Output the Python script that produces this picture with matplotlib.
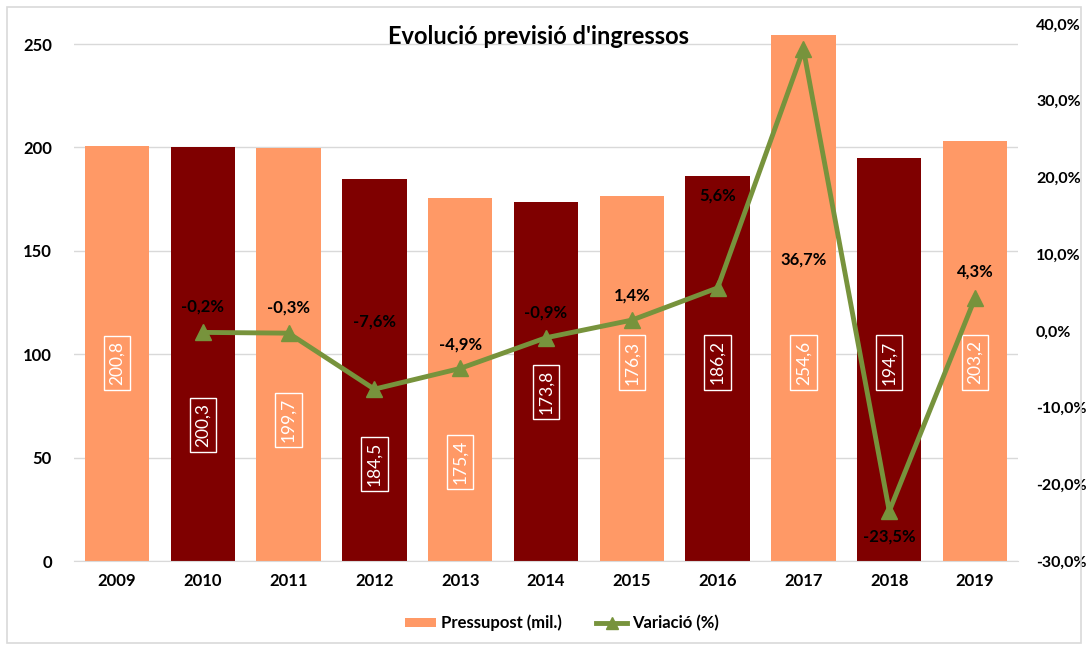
import matplotlib
matplotlib.use("Agg")
import matplotlib.pyplot as plt
from matplotlib.lines import Line2D
from matplotlib.patches import Patch, Rectangle

plt.rcParams['font.family'] = ['Lato', 'DejaVu Sans']
plt.rcParams['font.weight'] = 'bold'

years = ['2009', '2010', '2011', '2012', '2013', '2014', '2015', '2016', '2017', '2018', '2019']
budget = [200.8, 200.3, 199.7, 184.5, 175.4, 173.8, 176.3, 186.2, 254.6, 194.7, 203.2]
variation = [None, -0.2, -0.3, -7.6, -4.9, -0.9, 1.4, 5.6, 36.7, -23.5, 4.3]
left_ticks = [0, 50, 100, 150, 200, 250]
right_ticks = [-30, -20, -10, 0, 10, 20, 30, 40]

# layout (label positions, as dragged in the original)
bar_label_y = [95.7, 65.8, 68.2, 46.9, 47.9, 81.7, 96, 96, 96, 96, 96]
pct_label_off = [0, 3.4, 3.4, 8.8, 3.1, 3.3, 3.2, 12.0, -27.4, -3.3, 3.5]

light = '#FF9966'
dark = '#7F0000'
green = '#77933C'
colors = [light if i % 2 == 0 else dark for i in range(len(years))]

fig = plt.figure(figsize=(10.88, 6.5), dpi=100)
fig.patches.append(Rectangle((7/1088, 7/650), 1 - 14/1088, 1 - 14/650, transform=fig.transFigure,
                             fill=False, edgecolor='#D9D9D9', lw=1.2))
ax = fig.add_axes([74/1088, 1 - 561/650, (1018 - 74)/1088, (561 - 24)/650])
x = list(range(len(years)))
ax.bar(x, budget, width=0.75, color=colors, zorder=2)
ax.set_xlim(-0.5, len(years) - 0.5)
ax.set_ylim(0, 259.7)
ax.set_yticks(left_ticks)
ax.set_xticks(x)
ax.set_xticklabels(years)
ax.grid(axis='y', color='#D9D9D9', lw=1, zorder=0)
ax.set_axisbelow(True)
for s in ['top', 'left', 'right']:
    ax.spines[s].set_visible(False)
ax.spines['bottom'].set_color('#D9D9D9')
ax.tick_params(axis='both', length=0, labelsize=12)
ax.tick_params(axis='y', pad=16)
ax.tick_params(axis='x', pad=9)

for xi, v, c, ly in zip(x, budget, colors, bar_label_y):
    ax.text(xi, ly, f"{v:.1f}".replace('.', ','), rotation=90, ha='center', va='center',
            color='white', fontsize=12.5, fontweight='normal', zorder=5,
            bbox=dict(boxstyle='square,pad=0.3', fc=c, ec='white', lw=1))

ax2 = ax.twinx()
ax2.set_ylim(-30, 40)
ax2.set_yticks(right_ticks)
ax2.set_yticklabels([f"{t:.1f}%".replace('.', ',') for t in right_ticks])
for s in ax2.spines.values():
    s.set_visible(False)
ax2.tick_params(axis='y', length=0, labelsize=11.5, pad=13)

vx = [xi for xi, v in zip(x, variation) if v is not None]
vy = [v for v in variation if v is not None]
ax2.plot(vx, vy, color=green, lw=3.5, marker='^', markersize=11, zorder=4)
for xi, v, off in zip(x, variation, pct_label_off):
    if v is None:
        continue
    ax2.text(xi, v + off, f"{v:.1f}%".replace('.', ','), ha='center', va='center',
             fontsize=12, color='black', zorder=6)

fig.text(539/1088, 1 - 37/650, "Evolució previsió d'ingressos", ha='center', va='center',
         fontsize=17, fontweight='bold')

handles = [Patch(facecolor=light, edgecolor='none'),
           Line2D([0], [0], color=green, lw=3.5, marker='^', markersize=9)]
fig.legend(handles, ['Pressupost (mil.)', 'Variació (%)'], loc='center',
           bbox_to_anchor=(562/1088, 1 - 623/650), ncol=2, frameon=False,
           fontsize=12, handlelength=1.9, handletextpad=0.3, columnspacing=2.0,
           handleheight=0.5)

fig.savefig('out.png', dpi=100)
